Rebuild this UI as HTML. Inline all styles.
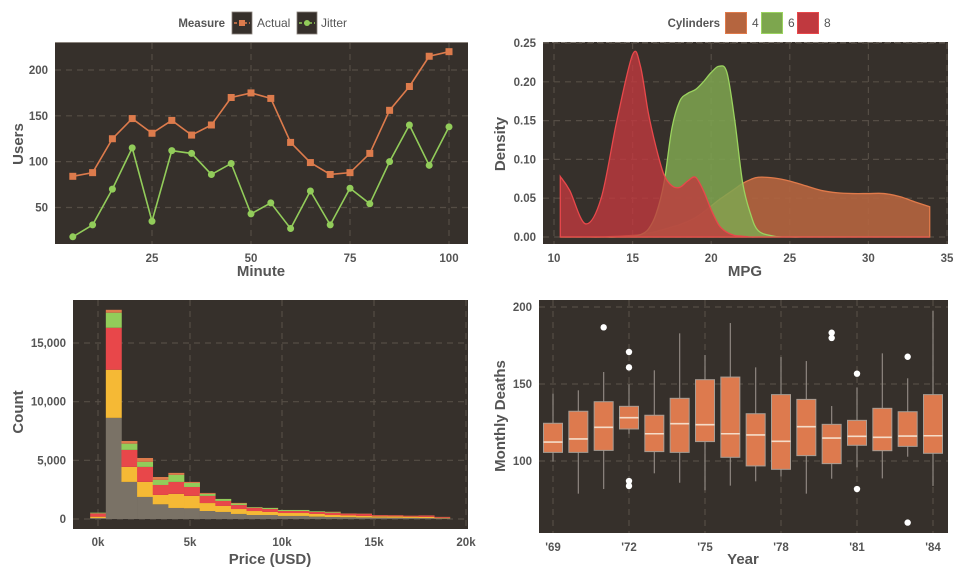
<!DOCTYPE html>
<html><head><meta charset="utf-8">
<style>
html,body{margin:0;padding:0;background:#fff;}
svg{display:block;font-family:"Liberation Sans",sans-serif;}
.tick{font-size:11.5px;font-weight:bold;fill:#555;}
.atitle{font-size:15px;font-weight:bold;fill:#555;}
.leg{font-size:12px;fill:#555;}
.legt{font-size:11.5px;font-weight:bold;fill:#555;}
</style></head>
<body>
<svg id="c" width="960" height="576" viewBox="0 0 960 576" xmlns="http://www.w3.org/2000/svg"></svg>
<script>
// ---------- data ----------
const minutes = [5,10,15,20,25,30,35,40,45,50,55,60,65,70,75,80,85,90,95,100];
const actualUsers = [84,88,125,147,131,145,129,140,170,175,169,121,99,86,88,109,156,182,215,220];
const jitterUsers = [18,31,70,115,35,112,109,86,98,43,55,27,68,31,71,54,100,140,96,138];
const usersTicks = [50,100,150,200];
const minuteTicks = [25,50,75,100];

const mpgGrid = [10.4,11,12,13,14,15,15.5,16,16.5,17,17.5,18,18.5,19,19.5,20,20.5,21,21.5,22,22.5,23,24,25,26,27,28,29,30,31,32,33,33.9];
const dens4 = [0,0,0,0,0.001,0.002,0.003,0.005,0.007,0.01,0.013,0.016,0.02,0.025,0.032,0.04,0.048,0.055,0.062,0.069,0.074,0.077,0.076,0.072,0.066,0.06,0.057,0.056,0.056,0.056,0.052,0.045,0.039];
const dens6 = [0,0,0,0,0,0.001,0.003,0.01,0.03,0.07,0.14,0.175,0.185,0.19,0.2,0.212,0.22,0.212,0.15,0.07,0.03,0.008,0.001,0,0,0,0,0,0,0,0,0,0];
const dens8 = [0.078,0.06,0.017,0.05,0.15,0.235,0.22,0.16,0.115,0.08,0.066,0.064,0.072,0.077,0.06,0.035,0.015,0.006,0.002,0.001,0,0,0,0,0,0,0,0,0,0,0,0,0];
const mpgTicks = [10,15,20,25,30,35];
const densTicks = [0,0.05,0.10,0.15,0.20,0.25];

const priceBins = [0,0.85,1.7,2.55,3.4,4.25,5.1,5.95,6.8,7.65,8.5,9.35,10.2,11.05,11.9,12.75,13.6,14.45,15.3,16.15,17,17.85,18.7];
const cntGray = [80,8620,3160,1880,1250,940,910,680,600,430,340,340,260,260,200,170,150,130,110,100,90,80,60];
const cntYellow = [120,4100,1280,1280,800,1200,1060,680,510,420,340,260,250,250,230,170,150,130,120,120,110,100,50];
const cntRed = [280,3580,1450,1280,850,1020,760,610,430,340,260,250,170,170,170,170,150,170,90,80,80,110,60];
const cntGreen = [60,1280,530,430,430,600,340,170,170,130,60,90,90,90,60,60,0,0,0,0,0,0,0];
const cntOrange = [0,250,230,330,250,170,90,80,0,50,20,10,0,0,0,50,30,30,20,20,10,20,10];
const priceTicks = [0,5,10,15,20];
const countTicks = [0,5000,10000,15000];
const countTickLabels = ["0","5,000","10,000","15,000"];

const years = [1969,1970,1971,1972,1973,1974,1975,1976,1977,1978,1979,1980,1981,1982,1983,1984];
const boxLow = [99.6,78.8,81.8,117.7,92,85.9,81,84,86.8,90,78.8,88.5,95.9,88.7,102.8,83.8];
const boxQ1 = [105.6,105.6,106.9,120.8,106.1,105.6,112.6,102.4,96.8,94.6,103.5,98.3,110.2,106.7,109.5,105];
const boxMed = [112.3,114.3,121.9,128.1,117.7,124.2,123.6,117.7,116.9,112.8,122.3,114.9,116,115.4,116.2,116.4];
const boxQ3 = [124.5,132.3,138.5,135.5,129.7,140.7,152.8,154.5,130.7,143.1,140,123.8,126.4,134.2,132,143.1];
const boxHigh = [143.7,145.9,157.8,149.8,158.9,182.9,168.8,189.6,160.8,167.5,164.9,135.7,147.8,169.9,153.7,197.6];
const outYears = [1971,1972,1972,1972,1972,1980,1980,1981,1981,1983,1983];
const outVals = [186.8,170.8,160.8,87,83.8,183.3,179.9,156.7,81.8,167.7,60];
const yearTicks = [1969,1972,1975,1978,1981,1984];
const deathTicks = [100,150,200];

// ---------- helpers ----------
const NS="http://www.w3.org/2000/svg";
const svg=document.getElementById('c');
function mk(tag,attrs,parent){const e=document.createElementNS(NS,tag);for(const k in attrs)e.setAttribute(k,attrs[k]);(parent||svg).appendChild(e);return e;}
function txt(s,attrs,parent){const e=mk('text',attrs,parent);e.textContent=s;return e;}
function lin(d0,d1,r0,r1){return v=>r0+(v-d0)*(r1-r0)/(d1-d0);}
function smooth(pts){let d='M'+pts[0][0]+','+pts[0][1];for(let i=0;i<pts.length-1;i++){const p0=pts[Math.max(0,i-1)],p1=pts[i],p2=pts[i+1],p3=pts[Math.min(pts.length-1,i+2)];const c1x=p1[0]+(p2[0]-p0[0])/6,c1y=p1[1]+(p2[1]-p0[1])/6,c2x=p2[0]-(p3[0]-p1[0])/6,c2y=p2[1]-(p3[1]-p1[1])/6;d+=' C'+c1x+','+c1y+' '+c2x+','+c2y+' '+p2[0]+','+p2[1];}return d;}
function panelBg(x0,y0,x1,y1,name){const r=mk('rect',{x:x0,y:y0,width:x1-x0,height:y1-y0,fill:'#36302b'});return r;}
function grid(g,x0,y0,x1,y1,xs,ys){xs.forEach(x=>mk('line',{x1:x,x2:x,y1:y0,y2:y1,stroke:'#554d45','stroke-width':1.2,'stroke-dasharray':'6,5'},g));ys.forEach(y=>mk('line',{x1:x0,x2:x1,y1:y,y2:y,stroke:'#554d45','stroke-width':1.2,'stroke-dasharray':'6,5'},g));}

// ---------- Panel 1 : line chart ----------
{
const g=mk('g',{});


const X=lin(0,100,53,449), Y=lin(0,200,253.3,70);
const pb=panelBg(55,42,468,244,'users-plot-area');g.appendChild(pb);
mk('line',{x1:55,x2:468,y1:42.5,y2:42.5,stroke:'#8a837c','stroke-width':1},g);
grid(g,55,43,468,244,minuteTicks.map(X),usersTicks.map(Y));
const pa=actualUsers.map((v,i)=>[X(minutes[i]),Y(v)]);
const pj=jitterUsers.map((v,i)=>[X(minutes[i]),Y(v)]);
const la=mk('polyline',{points:pa.map(p=>p.join(',')).join(' '),fill:'none',stroke:'#dd7b4c','stroke-width':1.6},g);

const lj=mk('polyline',{points:pj.map(p=>p.join(',')).join(' '),fill:'none',stroke:'#92cc5a','stroke-width':1.6},g);

pa.forEach(p=>{const r=mk('rect',{x:p[0]-3.5,y:p[1]-3.5,width:7,height:7,fill:'#dd7b4c'},g);});
pj.forEach(p=>{const c=mk('circle',{cx:p[0],cy:p[1],r:3.5,fill:'#92cc5a'},g);});
minuteTicks.forEach(t=>{const e=txt(t,{x:X(t),y:262,'text-anchor':'middle',class:'tick'},g);});
usersTicks.forEach(t=>{const e=txt(t,{x:48,y:Y(t)+4,'text-anchor':'end',class:'tick'},g);});
const xt=txt('Minute',{x:261,y:276,'text-anchor':'middle',class:'atitle'},g);
const yt=txt('Users',{x:0,y:0,'text-anchor':'middle',class:'atitle',transform:'translate(23,144) rotate(-90)'},g);
// legend
const lg=mk('g',{},g);
txt('Measure',{x:225,y:27,'text-anchor':'end',class:'legt'},lg);
mk('rect',{x:232,y:12,width:20,height:22,fill:'#36302b',stroke:'#8a837c','stroke-width':0.8},lg);
mk('line',{x1:234,x2:250,y1:23,y2:23,stroke:'#dd7b4c','stroke-width':1.5,'stroke-dasharray':'3,2'},lg);
mk('rect',{x:239,y:20,width:6,height:6,fill:'#dd7b4c'},lg);
const e1=txt('Actual',{x:257,y:27,class:'leg'},lg);
mk('rect',{x:297,y:12,width:20,height:22,fill:'#36302b',stroke:'#8a837c','stroke-width':0.8},lg);
mk('line',{x1:299,x2:315,y1:23,y2:23,stroke:'#92cc5a','stroke-width':1.5,'stroke-dasharray':'3,2'},lg);
mk('circle',{cx:307,cy:23,r:3,fill:'#92cc5a'},lg);
const e2=txt('Jitter',{x:321,y:27,class:'leg'},lg);
}

// ---------- Panel 2 : density ----------
{
const g=mk('g',{});


const X=lin(10,35,554,947), Y=lin(0,0.25,237,43);
const pb=panelBg(543,42,948,244,'density-plot-area');g.appendChild(pb);
mk('line',{x1:543,x2:948,y1:42.5,y2:42.5,stroke:'#7a736c','stroke-width':1,'stroke-dasharray':'6,3'},g);
grid(g,543,43,948,244,mpgTicks.map(X),densTicks.map(Y));
const series=[[dens4,'#b5653f','#e07a4a','density-4-cyl',0.9],[dens6,'#7fa650','#9bd35f','density-6-cyl',0.85],[dens8,'#c0393f','#e8484b','density-8-cyl',0.8]];
series.forEach(([d,f,s,n,op])=>{
  const pts=d.map((v,i)=>[X(mpgGrid[i]),Y(v)]);
  const top=smooth(pts);
  const area=top+' L'+X(mpgGrid[mpgGrid.length-1])+','+Y(0)+' L'+X(mpgGrid[0])+','+Y(0)+' Z';
  const a=mk('path',{d:area,fill:f,'fill-opacity':op,stroke:'none'},g);
  
  mk('path',{d:'M'+X(mpgGrid[0])+','+Y(0)+' L'+pts[0][0]+','+pts[0][1]+' '+top.slice(1).replace(/^[^C]*/,'')+' L'+X(mpgGrid[mpgGrid.length-1])+','+Y(0)+' Z',fill:'none',stroke:s,'stroke-width':1.3},g);
});
mpgTicks.forEach(t=>{const e=txt(t,{x:X(t),y:262,'text-anchor':'middle',class:'tick'},g);});
densTicks.forEach(t=>{const e=txt(t.toFixed(2),{x:536,y:Y(t)+4,'text-anchor':'end',class:'tick'},g);});
const xt=txt('MPG',{x:745,y:276,'text-anchor':'middle',class:'atitle'},g);
const yt=txt('Density',{x:0,y:0,'text-anchor':'middle',class:'atitle',transform:'translate(505,144) rotate(-90)'},g);
const lg=mk('g',{},g);
txt('Cylinders',{x:720,y:27,'text-anchor':'end',class:'legt'},lg);
[['4',725,'#b5653f','#e07a4a'],['6',761,'#7da64e','#9bd35f'],['8',797,'#c0393f','#e8484b']].forEach(([l,x,f,s])=>{
  mk('rect',{x:x+0.5,y:12.5,width:21,height:21,fill:f,stroke:s,'stroke-width':1},lg);
  const e=txt(l,{x:x+27,y:27,class:'leg'},lg);
});
}

// ---------- Panel 3 : stacked histogram ----------
{
const g=mk('g',{});


const X=lin(0,20,98,466), Y=lin(0,15000,519,343);
const pb=panelBg(73,300,468,529,'histogram-plot-area');g.appendChild(pb);
grid(g,73,300,468,529,priceTicks.map(X),countTicks.map(Y));
const layers=[[cntGray,'#7a7266','gray'],[cntYellow,'#f5b935','yellow'],[cntRed,'#e8474a','red'],[cntGreen,'#92cc5a','green'],[cntOrange,'#dd7b4c','orange']];
const bw=0.85;
priceBins.forEach((c,i)=>{
  let cum=0;
  layers.forEach(([arr,col,nm])=>{
    const v=arr[i]; if(v<=0) return;
    const y1=Y(cum), y2=Y(cum+v);
    const r=mk('rect',{x:X(c-bw/2),y:y2,width:X(c+bw/2)-X(c-bw/2)+0.3,height:y1-y2,fill:col},g);
    
    cum+=v;
  });
});
priceTicks.forEach(t=>{const e=txt(t+'k',{x:X(t),y:546,'text-anchor':'middle',class:'tick'},g);});
countTicks.forEach((t,i)=>{const e=txt(countTickLabels[i],{x:66,y:Y(t)+4,'text-anchor':'end',class:'tick'},g);});
const xt=txt('Price (USD)',{x:270,y:564,'text-anchor':'middle',class:'atitle'},g);
const yt=txt('Count',{x:0,y:0,'text-anchor':'middle',class:'atitle',transform:'translate(23,412) rotate(-90)'},g);
}

// ---------- Panel 4 : boxplots ----------
{
const g=mk('g',{});


const X=lin(1969,1984,553,933), Y=lin(100,200,461,307);
const pb=panelBg(539,300,948,533,'boxplot-plot-area');g.appendChild(pb);
grid(g,539,300,948,533,yearTicks.map(X),deathTicks.map(Y));
const hw=9.5;
years.forEach((yr,i)=>{
  const cx=X(yr);
  const bg=mk('g',{},g);
  mk('line',{x1:cx,x2:cx,y1:Y(boxHigh[i]),y2:Y(boxQ3[i]),stroke:'#8e8780','stroke-width':1.2},bg);
  mk('line',{x1:cx,x2:cx,y1:Y(boxQ1[i]),y2:Y(boxLow[i]),stroke:'#8e8780','stroke-width':1.2},bg);
  mk('rect',{x:cx-hw,y:Y(boxQ3[i]),width:2*hw,height:Y(boxQ1[i])-Y(boxQ3[i]),fill:'#dd7a4e',stroke:'#a99d93','stroke-width':1},bg);
  mk('line',{x1:cx-hw,x2:cx+hw,y1:Y(boxMed[i]),y2:Y(boxMed[i]),stroke:'#f5dcc8','stroke-width':1.6},bg);
});
outYears.forEach((yr,i)=>{const c=mk('circle',{cx:X(yr),cy:Y(outVals[i]),r:3.2,fill:'#ffffff'},g);});
yearTicks.forEach(t=>{const e=txt("'"+String(t).slice(2),{x:X(t),y:551,'text-anchor':'middle',class:'tick'},g);});
deathTicks.forEach(t=>{const e=txt(t,{x:532,y:Y(t)+4,'text-anchor':'end',class:'tick'},g);});
const xt=txt('Year',{x:743,y:564,'text-anchor':'middle',class:'atitle'},g);
const yt=txt('Monthly Deaths',{x:0,y:0,'text-anchor':'middle',class:'atitle',transform:'translate(505,416) rotate(-90)'},g);
}
</script>
</body></html>
